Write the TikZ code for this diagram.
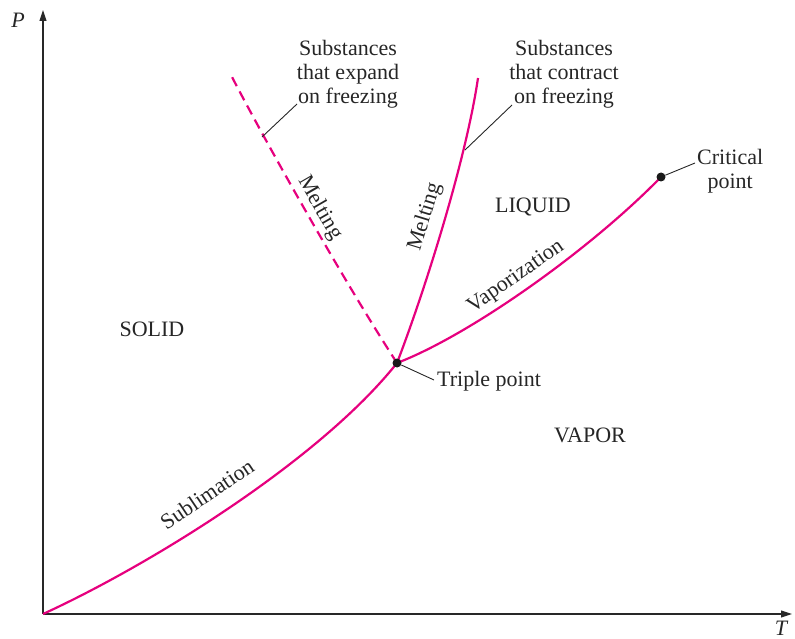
\documentclass[tikz,border=0pt]{standalone}
\usepackage{fontspec}
\setmainfont{Liberation Serif}
\usetikzlibrary{arrows.meta}
\definecolor{curve}{RGB}{230,0,126}
\definecolor{axisc}{RGB}{40,40,40}
\begin{document}
\begin{tikzpicture}[x=1pt,y=-1pt,
  lab/.style={font=\fontsize{22}{24}\selectfont, text=black!85, inner sep=0pt, align=center},
  phase/.style={curve, line width=2.2pt},
  leader/.style={black!85, line width=0.9pt},
  dotc/.style={circle, fill=black!90, inner sep=0pt, minimum size=9pt},
  axisline/.style={axisc, line width=1.1pt, -{Triangle[length=11pt,width=7pt]}}]
\useasboundingbox (0,0) rectangle (795,639);
\coordinate (O) at (43,614);
\coordinate (ytop) at (43,10);
\coordinate (xend) at (792,614);
\coordinate (tp) at (397,363);
\coordinate (cp) at (661,177);
\coordinate (dtop) at (232,77);
\coordinate (mtop) at (478,78);
% axes
\draw[axisline] (O) -- (ytop);
\draw[axisline] (O) -- (xend);
\node[lab, font=\fontsize{22}{24}\selectfont\itshape] (P) at (18,20) {P};
\node[lab, font=\fontsize{22}{24}\selectfont\itshape] (T) at (781,628) {T};
% curves
\draw[phase] (O) .. controls (150,565) and (320,460) .. (tp);
\draw[phase] (tp) .. controls (470,335) and (590,250) .. (cp);
\draw[phase] (tp) .. controls (425,290) and (466,160) .. (mtop);
\draw[phase, dash pattern=on 10pt off 6pt] (tp) .. controls (340,275) and (262,135) .. (dtop);
% dots
\node[dotc] (tpd) at (tp) {};
\node[dotc] (cpd) at (cp) {};
% curve labels
\node[lab, rotate=34] (sub) at (207,494) {Sublimation};
\node[lab, rotate=35] (vap) at (516,277) {Vaporization};
\node[lab, rotate=-60] (m1) at (320,208) {Melting};
\node[lab, rotate=73] (m2) at (425,217) {Melting};
% region labels
\node[lab] (solid) at (152,329) {SOLID};
\node[lab] (liquid) at (533,207) {LIQUID};
\node[lab] (vapor) at (590,435) {VAPOR};
% annotations
\node[lab, anchor=west] (tpl) at (437,381) {Triple point};
\node[lab, anchor=north west] (cpl) at (697,149) {Critical\\point};
\node[lab, anchor=north] (exp) at (348,40) {Substances\\that expand\\on freezing};
\node[lab, anchor=north] (con) at (564,40) {Substances\\that contract\\on freezing};
\coordinate (e1) at (262,137);
\coordinate (e2) at (297,104);
\coordinate (c1) at (465,150);
\coordinate (c2) at (512,105);
\coordinate (t2) at (434,380);
\coordinate (k2) at (695,163);
\draw[leader] (e1) -- (e2);
\draw[leader] (c1) -- (c2);
\draw[leader] (tpd) -- (t2);
\draw[leader] (cpd) -- (k2);
\end{tikzpicture}
\end{document}
